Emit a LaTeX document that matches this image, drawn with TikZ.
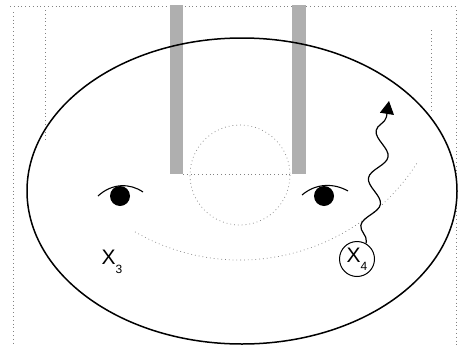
\documentclass[tikz,border=0pt]{standalone}
\usepackage{fontspec}
\setmainfont{Liberation Sans}
\usetikzlibrary{arrows.meta,positioning,decorations.pathmorphing}
\definecolor{stipple}{RGB}{175,175,175}
\definecolor{faint}{RGB}{130,130,130}
\newcommand{\xsub}[1]{X\raisebox{-0.4em}{\fontsize{12}{12}\selectfont #1}}

\begin{document}
\begin{tikzpicture}[x=1pt,y=-1pt,line width=1.1pt,
faintline/.style={faint,line width=0.7pt,dash pattern=on 0.8pt off 3pt},
eye/.style={circle,fill=black,inner sep=0pt,minimum size=20pt},
lbl/.style={inner sep=0pt,font=\fontsize{21}{22}\selectfont}]
\useasboundingbox (0,0) rectangle (473,351);
\draw[faintline] (10,6) -- (458,6);
\draw[faintline] (13,12) -- (13,345);
\draw[faintline] (45,10) -- (45,140);
\draw[faintline] (456,10) -- (456,345);
\draw[faintline] (431,30) -- (431,112);
\fill[stipple] (170,5) rectangle (183,174);
\fill[stipple] (292,5) rectangle (306,174);
\draw[faintline] (183,174) -- (292,174);
\draw[faintline] (240,175) circle[radius=50];
\draw[faintline] (240,50) ++(120:210) arc[start angle=120,end angle=32,radius=210];
\draw[line width=1.5pt] (242,191) ellipse[x radius=215,y radius=153];
\node[eye] (lefteye) at (120,196) {};
\node[eye] (righteye) at (324,196) {};
\draw (98,196) .. controls (112,183) and (130,183) .. (143,192);
\draw (302,195) .. controls (316,183) and (334,183) .. (348,191);
\node[lbl] (x3) at (112,262) {\xsub{3}};
\node[lbl,draw,circle,minimum size=35pt,line width=1pt] (x4) at (357,259) {\xsub{4}};
\coordinate (tip) at (389,101);
\draw[line width=1.2pt,decorate,decoration={snake,amplitude=8pt,segment length=48pt,pre length=2pt,post length=10pt},
-{Triangle[length=13pt,width=14pt]}] (x4.60) -- (tip);
\end{tikzpicture}
\end{document}
